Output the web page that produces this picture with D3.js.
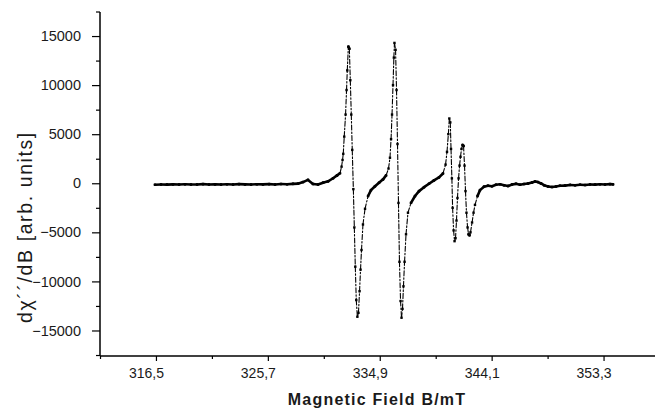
<!DOCTYPE html>
<html>
<head>
<meta charset="utf-8">
<script src="https://cdn.jsdelivr.net/npm/d3@7"></script>
<style>
  html, body { margin: 0; padding: 0; background: #fff; }
  svg { display: block; }
  text { font-family: "Liberation Sans", Arial, sans-serif; fill: #1a1a1a; }
</style>
</head>
<body>
<svg id="chart" width="655" height="410"></svg>
<script>
// ---- data ----
const fieldMT = [316.42,316.92,317.41,317.90,318.40,318.89,319.38,319.88,320.37,320.86,321.36,321.85,322.34,322.84,323.33,323.82,324.32,324.81,325.30,325.80,326.29,326.78,327.28,327.77,328.18,328.59,329.00,329.41,329.82,330.24,330.65,331.06,331.39,331.63,331.76,331.84,331.90,331.98,332.09,332.17,332.23,332.32,332.40,332.48,332.56,332.64,332.73,332.81,332.89,332.97,333.06,333.15,333.24,333.32,333.40,333.52,333.69,333.94,334.18,334.51,334.84,335.17,335.42,335.62,335.74,335.83,335.91,335.99,336.06,336.11,336.20,336.28,336.36,336.44,336.52,336.61,336.69,336.77,336.85,336.94,337.06,337.22,337.47,337.80,338.13,338.54,338.95,339.36,339.77,340.10,340.31,340.43,340.54,340.62,340.70,340.76,340.83,340.89,340.97,341.05,341.13,341.21,341.29,341.38,341.46,341.54,341.62,341.71,341.79,341.87,341.95,342.03,342.12,342.20,342.28,342.36,342.49,342.61,342.73,342.94,343.14,343.47,343.80,344.13,344.46,344.79,345.12,345.45,345.78,346.10,346.43,346.76,347.09,347.42,347.67,347.91,348.16,348.41,348.74,349.06,349.39,349.72,350.13,350.54,350.96,351.37,351.78,352.19,352.60,353.01,353.42,353.83,354.08];
const signal = [-150,-120,-140,-110,-130,-100,-130,-120,-90,-120,-110,-130,-100,-120,-90,-110,-130,-100,-110,-90,-120,-80,-100,-60,-40,120,340,-70,-120,60,200,510,800,1020,1690,2370,3000,4750,7000,9500,11500,13920,13700,10500,7000,3400,-600,-4500,-8500,-11900,-13600,-13200,-11000,-8800,-6800,-4200,-2600,-1300,-700,-300,50,400,800,1500,2600,4500,7000,10000,12800,14300,13600,9500,4000,-2000,-8000,-12000,-13700,-12800,-10500,-8000,-5200,-3000,-2000,-1300,-800,-400,-50,300,600,1000,1900,3200,5000,6600,6200,3500,500,-2500,-4800,-5900,-5600,-3800,-1500,500,1800,2700,3500,3900,3800,1800,-800,-3000,-4500,-5200,-5300,-5000,-4000,-3000,-2200,-1300,-700,-350,-250,-300,-150,-100,-200,-280,-120,-60,-150,-80,-30,80,180,120,-20,-200,-330,-380,-330,-260,-240,-170,-200,-150,-180,-120,-140,-100,-120,-90,-110];

const xMajorTicks = [316.5, 325.7, 334.9, 344.1, 353.3];
const xMinorTicks = [311.9, 321.1, 330.3, 339.5, 348.7];
const yMajorTicks = [-15000, -10000, -5000, 0, 5000, 10000, 15000];
const yMinorTicks = [-17500, -12500, -7500, -2500, 2500, 7500, 12500, 17500];
const xTitle = "Magnetic Field B/mT";
const yTitle = "dχ´´/dB [arb. units]";

// ---- layout ----
const svg = d3.select("#chart");
const x = d3.scaleLinear().domain([311.9, 357.53]).range([100, 655]);
const y = d3.scaleLinear().domain([-17600, 17450]).range([356, 12]);
const fmt = v => d3.format(".1f")(v).replace(".", ",");

// x axis
const gx = svg.append("g").attr("transform", "translate(0,356)");
gx.append("line").attr("x1", 100).attr("x2", 655).attr("stroke", "#000").attr("stroke-width", 1.5);
gx.append("g").call(d3.axisBottom(x).tickValues(xMajorTicks).tickSize(5).tickFormat(fmt))
  .call(a => a.select(".domain").remove())
  .call(a => a.selectAll("line").attr("stroke", "#000").attr("stroke-width", 1.2))
  .call(a => a.selectAll("text").attr("font-size", 14).attr("dx", -10).attr("y", 12).attr("dy", "0.71em").attr("fill", "#1a1a1a"));
gx.append("g").call(d3.axisBottom(x).tickValues(xMinorTicks).tickSize(3).tickFormat(""))
  .call(a => a.select(".domain").remove())
  .call(a => a.selectAll("line").attr("stroke", "#000").attr("stroke-width", 1.2));

// y axis
const gy = svg.append("g").attr("transform", "translate(100,0)");
gy.append("line").attr("y1", 12).attr("y2", 356).attr("stroke", "#000").attr("stroke-width", 1.5);
gy.append("g").call(d3.axisLeft(y).tickValues(yMajorTicks).tickSize(8).tickPadding(11).tickFormat(d3.format("d")))
  .call(a => a.select(".domain").remove())
  .call(a => a.selectAll("line").attr("stroke", "#000").attr("stroke-width", 1.2))
  .call(a => a.selectAll("text").attr("font-size", 14.5).attr("fill", "#1a1a1a"));
gy.append("g").call(d3.axisLeft(y).tickValues(yMinorTicks).tickSize(4).tickFormat(""))
  .call(a => a.select(".domain").remove())
  .call(a => a.selectAll("line").attr("stroke", "#000").attr("stroke-width", 1.2));

// titles
svg.append("text").attr("x", 377).attr("y", 405).attr("text-anchor", "middle")
  .attr("font-size", 16).attr("font-weight", "bold").attr("letter-spacing", 1.2).text(xTitle);
svg.append("text").attr("transform", "translate(32,227) rotate(-90)").attr("text-anchor", "middle")
  .attr("font-size", 19.5).attr("letter-spacing", 1.6).text(yTitle);

// data: flat segments drawn heavy, steep segments thin and broken like the scanned trace
const pts = fieldMT.map((f, i) => [x(f), y(signal[i])]);
const segs = d3.pairs(pts);
svg.append("g").selectAll("line").data(segs).join("line")
  .attr("x1", d => d[0][0]).attr("y1", d => d[0][1])
  .attr("x2", d => d[1][0]).attr("y2", d => d[1][1])
  .attr("stroke", "#000")
  .attr("stroke-linecap", "round")
  .attr("stroke-width", d => Math.abs(d[1][1] - d[0][1]) < 2.5 * Math.abs(d[1][0] - d[0][0]) ? 2.6 : 1.1)
  .attr("stroke-dasharray", d => Math.abs(d[1][1] - d[0][1]) < 2.5 * Math.abs(d[1][0] - d[0][0]) ? null : "5,2,1.5,2");
svg.append("g").selectAll("rect").data(pts).join("rect")
  .attr("x", d => d[0] - 1.2).attr("y", d => d[1] - 1.2)
  .attr("width", 2.4).attr("height", 2.4).attr("fill", "#000");
</script>
</body>
</html>
